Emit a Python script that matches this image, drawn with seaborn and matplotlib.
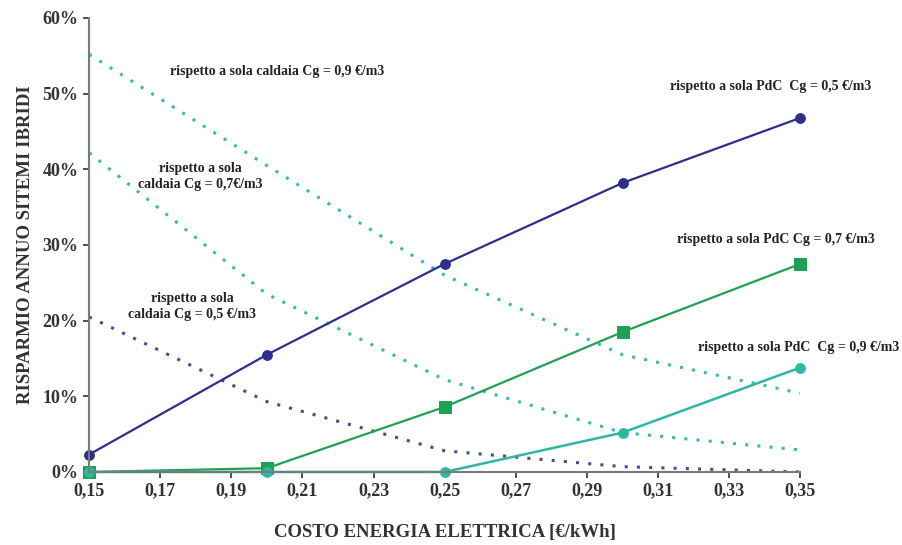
import matplotlib
matplotlib.use("Agg")
import matplotlib.pyplot as plt
import seaborn as sns
from matplotlib.ticker import FuncFormatter

# costo energia elettrica [euro/kWh]
costo = [0.15, 0.20, 0.25, 0.30, 0.35]

# risparmio annuo [%] rispetto a sola PdC (linee continue)
pdc_05 = [2.3, 15.5, 27.5, 38.2, 46.8]
pdc_07 = [0.0, 0.5, 8.6, 18.5, 27.5]
pdc_09 = [0.0, 0.0, 0.0, 5.2, 13.8]

# risparmio annuo [%] rispetto a sola caldaia (linee puntinate)
cald_09 = [55.2, 40.5, 26.0, 15.5, 10.4]
cald_07 = [42.2, 23.5, 12.2, 5.2, 2.9]
cald_05 = [20.5, 9.3, 2.8, 0.7, 0.0]

xticks = [0.15, 0.17, 0.19, 0.21, 0.23, 0.25, 0.27, 0.29, 0.31, 0.33, 0.35]
yticks = [0, 10, 20, 30, 40, 50, 60]

blu = "#2e2e8c"
verde = "#1fa055"
teal = "#2bb8a4"
teal_dot = "#3bbaa8"
blu_dot = "#4a4a98"

sns.set_style("ticks")
plt.rcParams["font.family"] = ["Liberation Serif", "DejaVu Serif"]
plt.rcParams["font.weight"] = "bold"

fig = plt.figure(figsize=(9.03, 5.45), dpi=100)
ax = fig.add_axes([0.0986, 0.134, 0.7877, 0.833])

dots = (0, (1, 3))
sns.lineplot(x=costo, y=cald_09, ax=ax, color=teal_dot, linestyle=dots, linewidth=2.2)
sns.lineplot(x=costo, y=cald_07, ax=ax, color=teal_dot, linestyle=dots, linewidth=2.2)
sns.lineplot(x=costo, y=cald_05, ax=ax, color=blu_dot, linestyle=dots, linewidth=2.2)

sns.lineplot(x=costo, y=pdc_05, ax=ax, color=blu, linewidth=1.6,
             marker="o", markersize=7, markeredgecolor=blu, clip_on=False)
sns.lineplot(x=costo, y=pdc_07, ax=ax, color=verde, linewidth=1.6,
             marker="s", markersize=8, markeredgecolor=verde, clip_on=False)
sns.lineplot(x=costo, y=pdc_09, ax=ax, color=teal, linewidth=1.8,
             marker="o", markersize=7, markeredgecolor=teal, clip_on=False)

ax.set_xlim(0.15, 0.35)
ax.set_ylim(0, 60)
ax.set_xticks(xticks)
ax.set_yticks(yticks)
ax.xaxis.set_major_formatter(FuncFormatter(lambda v, p: f"{v:.2f}".replace(".", ",")))
ax.yaxis.set_major_formatter(FuncFormatter(lambda v, p: f"{v:.0f}%"))
ax.tick_params(labelsize=13, colors="#333333", length=4, width=1.2)
for lab in ax.get_xticklabels() + ax.get_yticklabels():
    lab.set_fontweight("bold")

sns.despine(ax=ax)
for s in ["left", "bottom"]:
    ax.spines[s].set_color("#7a7a7a")
    ax.spines[s].set_linewidth(1.5)

ax.set_xlabel("COSTO ENERGIA ELETTRICA [€/kWh]", fontsize=13.5, fontweight="bold",
              color="#333333", labelpad=18)
ax.set_ylabel("RISPARMIO ANNUO SITEMI IBRIDI", fontsize=13.5, fontweight="bold",
              color="#333333", labelpad=6)

kw = dict(fontsize=10, fontweight="bold", color="#222222", ha="center", va="center")
ax.text(0.2029, 52.9, "rispetto a sola caldaia Cg = 0,9 €/m3", **kw)
ax.text(0.1812, 39.0, "rispetto a sola\ncaldaia Cg = 0,7€/m3", linespacing=1.3, **kw)
ax.text(0.1790, 21.9, "rispetto a sola\ncaldaia Cg = 0,5 €/m3", linespacing=1.3, **kw)
ax.text(0.3416, 51.0, "rispetto a sola PdC  Cg = 0,5 €/m3", **kw)
ax.text(0.3432, 30.7, "rispetto a sola PdC Cg = 0,7 €/m3", **kw)
ax.text(0.3494, 16.5, "rispetto a sola PdC  Cg = 0,9 €/m3", **kw)

fig.savefig("out.png", dpi=100)
